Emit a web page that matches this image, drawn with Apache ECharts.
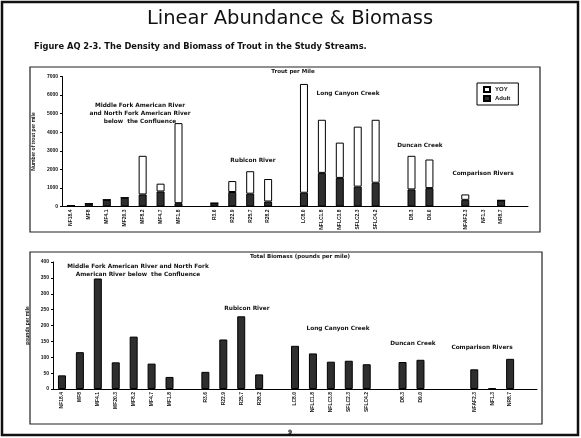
<!DOCTYPE html>
<html><head><meta charset="utf-8">
<script src="https://cdn.jsdelivr.net/npm/echarts@6/dist/echarts.min.js"></script>
<style>html,body{margin:0;padding:0;background:#fff}#c{width:581px;height:438px}</style>
</head><body><div id="c"></div>
<script>
// ---- data ----
const topCategories = ['NF18.4','MF8','MF4.1','MF20.3','MF8.2','MF4.7','MF1.8',' ','R3.6','R22.9','R25.7','R28.2','  ','LC8.0','NFLC1.8','NFLC3.8','SFLC2.3','SFLC4.2','   ','D8.3','D9.0','    ','NFAF2.3','NF1.3','NR8.7','     '];
const adultPerMile = [50,150,360,470,650,810,180,null,180,780,690,270,null,740,1810,1540,1070,1280,null,920,990,null,360,0,330,null];
const yoyPerMile   = [0,0,0,0,2080,420,4310,null,0,590,1210,1210,null,5860,2860,1900,3230,3390,null,1810,1540,null,290,0,0,null];
const bottomCategories = ['NF18.4','MF8','MF4.1','MF20.3','MF8.2','MF4.7','MF1.8',' ','R3.6','R22.9','R25.7','R28.2','  ','LC8.0','NFLC1.8','NFLC3.8','SFLC2.3','SFLC4.2','   ','D8.3','D9.0','    ','     ','NFAF2.3','NF1.3','NR8.7','      '];
const biomassPerMile = [43,116,348,84,165,80,38,null,54,156,229,46,null,136,112,86,89,78,null,85,92,null,null,62,2,95,null];

const chart = echarts.init(document.getElementById('c'));
const F = 'Liberation Sans';
const FB = 'DejaVu Sans';
const axisLbl = {fontSize:5, fontWeight:'bold', color:'#111', fontFamily:F};
function txt(x,y,s,size){return {type:'text',x:x,y:y,style:{text:s,fontSize:size||5.8,fontWeight:'bold',fontFamily:FB,fill:'#111',align:'center',verticalAlign:'middle'}};}
chart.setOption({
  animation:false,
  backgroundColor:'#fff',
  grid:[
    {left:62, top:76.5, width:466, height:130},
    {left:53, top:262, width:484, height:127}
  ],
  legend:{
    data:['YOY','Adult'], orient:'vertical', left:477, top:83,
    borderColor:'#000', borderWidth:1, padding:[3,8,3,6], itemGap:2,
    itemWidth:6, itemHeight:5, icon:'rect',
    textStyle:{fontSize:6, fontWeight:'bold', fontFamily:F, color:'#111'}
  },
  xAxis:[
    {type:'category', gridIndex:0, data:topCategories,
     axisLine:{lineStyle:{color:'#000',width:1}}, axisTick:{length:2,lineStyle:{color:'#000'}},
     axisLabel:Object.assign({rotate:90, interval:0, margin:3}, axisLbl)},
    {type:'category', gridIndex:1, data:bottomCategories,
     axisLine:{lineStyle:{color:'#000',width:1}}, axisTick:{length:2,lineStyle:{color:'#000'}},
     axisLabel:Object.assign({rotate:90, interval:0, margin:3}, axisLbl)}
  ],
  yAxis:[
    {type:'value', gridIndex:0, min:0, max:7000, interval:1000,
     name:'Number of trout per mile', nameLocation:'middle', nameGap:26, nameRotate:90,
     nameTextStyle:{fontSize:5, fontWeight:'bold', fontFamily:F, color:'#111'},
     axisLine:{show:true, lineStyle:{color:'#000'}}, axisTick:{show:true,length:2,lineStyle:{color:'#000'}},
     splitLine:{show:false}, axisLabel:Object.assign({margin:4, formatter:function(v){return String(v);}}, axisLbl)},
    {type:'value', gridIndex:1, min:0, max:400, interval:50,
     name:'pounds per mile', nameLocation:'middle', nameGap:18, nameRotate:90,
     nameTextStyle:{fontSize:5, fontWeight:'bold', fontFamily:F, color:'#111'},
     axisLine:{show:true, lineStyle:{color:'#000'}}, axisTick:{show:true,length:2,lineStyle:{color:'#000'}},
     splitLine:{show:false}, axisLabel:Object.assign({margin:4}, axisLbl)}
  ],
  series:[
    {name:'Adult', type:'bar', stack:'t', xAxisIndex:0, yAxisIndex:0, barWidth:8, data:adultPerMile,
     itemStyle:{color:'#2e2e2e', borderColor:'#000', borderWidth:1}},
    {name:'YOY', type:'bar', stack:'t', xAxisIndex:0, yAxisIndex:0, barWidth:8, data:yoyPerMile,
     itemStyle:{color:'#fff', borderColor:'#000', borderWidth:1}},
    {name:'Biomass', type:'bar', xAxisIndex:1, yAxisIndex:1, barWidth:8, data:biomassPerMile,
     itemStyle:{color:'#2e2e2e', borderColor:'#000', borderWidth:1}}
  ],
  graphic:[
    {type:'rect', shape:{x:2,y:2,width:576,height:433}, style:{fill:null, stroke:'#111', lineWidth:2.5}},
    {type:'rect', shape:{x:30,y:67,width:510,height:165}, style:{fill:null, stroke:'#222', lineWidth:1.2}},
    {type:'rect', shape:{x:30,y:252,width:512,height:172}, style:{fill:null, stroke:'#222', lineWidth:1.2}},
    {type:'text', x:290, y:19, style:{text:'Linear Abundance & Biomass',fontSize:19.5,fontFamily:'DejaVu Sans',fill:'#111',align:'center',verticalAlign:'middle'}},
    {type:'text', x:34, y:47, style:{text:'Figure AQ 2-3. The Density and Biomass of Trout in the Study Streams.',fontSize:8.3,fontWeight:'bold',fontFamily:FB,fill:'#111',align:'left',verticalAlign:'middle'}},
    txt(293,72,'Trout per Mile',5.5),
    txt(140,105,'Middle Fork American River'),
    txt(140,113,'and North Fork American River'),
    txt(140,121,'below  the Confluence'),
    txt(253,160,'Rubicon River'),
    txt(348,93,'Long Canyon Creek'),
    txt(420,145,'Duncan Creek'),
    txt(483,173,'Comparison Rivers'),
    txt(300,257,'Total Biomass (pounds per mile)',5.5),
    txt(138,266,'Middle Fork American River and North Fork'),
    txt(138,274,'American River below  the Confluence'),
    txt(247,308,'Rubicon River'),
    txt(338,328,'Long Canyon Creek'),
    txt(413,343,'Duncan Creek'),
    txt(482,347,'Comparison Rivers'),
    txt(290,432,'9',6)
  ]
});
</script></body></html>
